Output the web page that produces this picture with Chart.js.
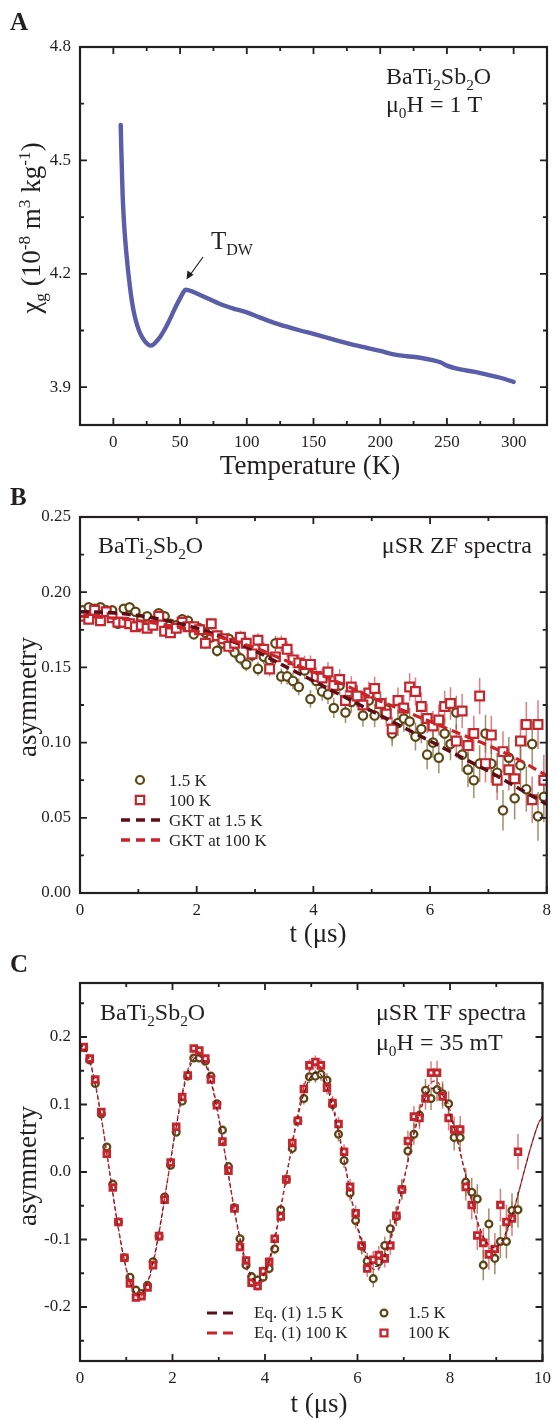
<!DOCTYPE html>
<html>
<head>
<meta charset="utf-8">
<script src="https://cdn.jsdelivr.net/npm/chart.js@4.4.0/dist/chart.umd.min.js"></script>
<style>
  body { margin: 0; background: #fff; }
  canvas { display: block; }
</style>
</head>
<body>
<canvas id="chartA" width="558" height="480"></canvas>
<canvas id="chartB" width="558" height="470"></canvas>
<canvas id="chartC" width="558" height="470"></canvas>
<script>
// ---- Panel A: susceptibility vs temperature ----
const aTemp = [5.5, 6, 6.5, 7, 8, 9, 10, 12, 14, 16, 18, 20, 22, 24, 26, 28, 30, 32, 35, 38, 41, 44, 47, 50, 52, 54, 56,
  60, 65, 70, 80, 90, 100, 110, 120, 130, 140, 150, 160, 170, 180, 190, 200, 210, 220, 230, 240, 245, 250,
  260, 270, 280, 290, 300];
const aChi = [4.594, 4.525, 4.46, 4.405, 4.335, 4.285, 4.245, 4.178, 4.125, 4.088, 4.062, 4.043, 4.030, 4.020, 4.013,
  4.010, 4.013, 4.020, 4.033, 4.050, 4.070, 4.092, 4.115, 4.135, 4.148, 4.158, 4.157,
  4.152, 4.144, 4.136, 4.120, 4.108, 4.098, 4.084, 4.071, 4.060, 4.050, 4.041, 4.031, 4.021, 4.012, 4.004, 3.996,
  3.987, 3.982, 3.978, 3.971, 3.966, 3.957, 3.947, 3.941, 3.933, 3.925, 3.914];
const aXTicks = [0, 50, 100, 150, 200, 250, 300];
const aYTicks = [3.9, 4.2, 4.5, 4.8];

// ---- Panel B: zero field spectra ----
const zfTime = [0.05, 0.15, 0.25, 0.35, 0.45, 0.55, 0.65, 0.75, 0.85, 0.95,
  1.05, 1.15, 1.25, 1.35, 1.45, 1.55, 1.65, 1.75, 1.85, 1.95,
  2.05, 2.15, 2.25, 2.35, 2.45, 2.55, 2.65, 2.75, 2.85, 2.95,
  3.05, 3.15, 3.25, 3.35, 3.45, 3.55, 3.65, 3.75, 3.85, 3.95,
  4.05, 4.15, 4.25, 4.35, 4.45, 4.55, 4.65, 4.75, 4.85, 4.95,
  5.05, 5.15, 5.25, 5.35, 5.45, 5.55, 5.65, 5.75, 5.85, 5.95,
  6.05, 6.15, 6.25, 6.35, 6.45, 6.55, 6.65, 6.75, 6.85, 6.95,
  7.05, 7.15, 7.25, 7.35, 7.45, 7.55, 7.65, 7.75, 7.85, 7.95];
const zf15 = [0.188, 0.190, 0.189, 0.190, 0.188, 0.188, 0.179, 0.189, 0.190, 0.187,
  0.182, 0.184, 0.181, 0.186, 0.184, 0.179, 0.178, 0.182, 0.181, 0.172,
  0.176, 0.173, 0.170, 0.161, 0.166, 0.169, 0.160, 0.156, 0.152, 0.158,
  0.149, 0.157, 0.155, 0.166, 0.144, 0.144, 0.141, 0.137, 0.148, 0.129,
  0.141, 0.134, 0.132, 0.123, 0.138, 0.120, 0.127, 0.131, 0.118, 0.128,
  0.118, 0.126, 0.122, 0.106, 0.113, 0.116, 0.114, 0.104, 0.109, 0.092,
  0.100, 0.090, 0.106, 0.099, 0.120, 0.092, 0.082, 0.075, 0.086, 0.106,
  0.086, 0.080, 0.055, 0.090, 0.063, 0.085, 0.069, 0.099, 0.051, 0.064];
const zf100 = [0.184, 0.182, 0.188, 0.181, 0.187, 0.183, 0.180, 0.180, 0.179, 0.177,
  0.178, 0.176, 0.178, 0.184, 0.174, 0.173, 0.176, 0.180, 0.177, 0.177,
  0.175, 0.166, 0.179, 0.171, 0.169, 0.164, 0.166, 0.170, 0.166, 0.159,
  0.168, 0.162, 0.149, 0.157, 0.166, 0.162, 0.155, 0.153, 0.152, 0.152,
  0.144, 0.143, 0.147, 0.138, 0.142, 0.128, 0.137, 0.131, 0.125, 0.133,
  0.136, 0.126, 0.119, 0.109, 0.128, 0.123, 0.137, 0.134, 0.124, 0.116,
  0.111, 0.115, 0.124, 0.126, 0.101, 0.121, 0.098, 0.106, 0.131, 0.086,
  0.105, 0.075, 0.094, 0.082, 0.076, 0.101, 0.112, 0.062, 0.112, 0.075];
const zfErr = [0.0022, 0.0022, 0.0023, 0.0024, 0.0024, 0.0025, 0.0025, 0.0026, 0.0027, 0.0027,
  0.0028, 0.0029, 0.0030, 0.0031, 0.0031, 0.0032, 0.0033, 0.0034, 0.0035, 0.0036,
  0.0037, 0.0038, 0.0039, 0.0040, 0.0041, 0.0042, 0.0043, 0.0044, 0.0045, 0.0046,
  0.0047, 0.0048, 0.0050, 0.0051, 0.0052, 0.0054, 0.0055, 0.0056, 0.0058, 0.0059,
  0.0061, 0.0062, 0.0064, 0.0066, 0.0067, 0.0069, 0.0071, 0.0072, 0.0074, 0.0076,
  0.0078, 0.0080, 0.0082, 0.0084, 0.0086, 0.0088, 0.0091, 0.0093, 0.0095, 0.0098,
  0.0100, 0.0103, 0.0105, 0.0108, 0.0111, 0.0113, 0.0116, 0.0119, 0.0122, 0.0125,
  0.0128, 0.0131, 0.0135, 0.0138, 0.0141, 0.0145, 0.0150, 0.0155, 0.0162, 0.0170];
const gktTime = [0, 0.5, 1, 1.5, 2, 2.5, 3, 3.5, 4, 4.5, 5, 5.5, 6, 6.5, 7, 7.5, 8];
const gkt15 = [0.187, 0.1865, 0.1845, 0.181, 0.176, 0.169, 0.161, 0.151, 0.141, 0.131, 0.121, 0.111, 0.101, 0.091, 0.081, 0.070, 0.059];
const gkt100 = [0.184, 0.183, 0.181, 0.178, 0.174, 0.169, 0.163, 0.155, 0.147, 0.139, 0.130, 0.122, 0.114, 0.106, 0.098, 0.089, 0.078];
const bXTicks = [0, 2, 4, 6, 8];
const bYTicks = [0, 0.05, 0.10, 0.15, 0.20, 0.25];

// ---- Panel C: transverse field spectra ----
const tfTime = [0.08, 0.21, 0.33, 0.46, 0.58, 0.71, 0.83, 0.96, 1.08, 1.21,
  1.33, 1.46, 1.58, 1.71, 1.83, 1.96, 2.08, 2.21, 2.33, 2.46,
  2.58, 2.71, 2.83, 2.96, 3.08, 3.21, 3.34, 3.46, 3.59, 3.71,
  3.84, 3.96, 4.09, 4.21, 4.34, 4.46, 4.59, 4.71, 4.84, 4.96,
  5.09, 5.21, 5.34, 5.46, 5.59, 5.71, 5.84, 5.96, 6.09, 6.21,
  6.34, 6.46, 6.59, 6.71, 6.84, 6.96, 7.09, 7.22, 7.34, 7.47,
  7.59, 7.72, 7.84, 7.97, 8.09, 8.22, 8.34, 8.47, 8.59, 8.72,
  8.84, 8.97, 9.09, 9.22, 9.34, 9.47];
const tf15 = [0.184, 0.166, 0.131, 0.086, 0.037, -0.018, -0.074, -0.127, -0.156, -0.175,
  -0.180, -0.168, -0.133, -0.095, -0.037, 0.010, 0.059, 0.105, 0.142, 0.169,
  0.169, 0.164, 0.142, 0.101, 0.062, 0.008, -0.053, -0.099, -0.138, -0.155,
  -0.160, -0.156, -0.143, -0.114, -0.056, -0.011, 0.035, 0.076, 0.109, 0.141,
  0.142, 0.145, 0.136, 0.100, 0.056, 0.017, -0.031, -0.072, -0.110, -0.132,
  -0.158, -0.133, -0.109, -0.084, -0.066, -0.026, 0.031, 0.056, 0.084, 0.121,
  0.109, 0.122, 0.116, 0.101, 0.051, 0.051, -0.015, -0.030, -0.040, -0.138,
  -0.077, -0.128, -0.103, -0.103, -0.057, -0.056];
const tf100 = [0.185, 0.168, 0.137, 0.089, 0.027, -0.023, -0.074, -0.127, -0.165, -0.186,
  -0.184, -0.171, -0.138, -0.095, -0.041, 0.014, 0.067, 0.111, 0.143, 0.183,
  0.180, 0.168, 0.137, 0.099, 0.045, 0.002, -0.054, -0.111, -0.131, -0.164,
  -0.169, -0.147, -0.133, -0.099, -0.066, -0.011, 0.043, 0.076, 0.123, 0.158,
  0.163, 0.158, 0.125, 0.102, 0.071, 0.030, -0.022, -0.061, -0.109, -0.143,
  -0.130, -0.123, -0.128, -0.109, -0.065, -0.026, 0.046, 0.082, 0.080, 0.109,
  0.147, 0.147, 0.112, 0.080, 0.063, 0.063, -0.022, -0.049, -0.094, -0.105,
  -0.122, -0.114, -0.049, -0.074, -0.069, 0.030];
const tfErr = [0.0031, 0.0031, 0.0032, 0.0033, 0.0034, 0.0035, 0.0036, 0.0037, 0.0038, 0.0039,
  0.0041, 0.0042, 0.0043, 0.0044, 0.0046, 0.0047, 0.0048, 0.0050, 0.0051, 0.0053,
  0.0054, 0.0056, 0.0057, 0.0059, 0.0061, 0.0062, 0.0064, 0.0066, 0.0068, 0.0070,
  0.0072, 0.0074, 0.0076, 0.0079, 0.0081, 0.0083, 0.0086, 0.0089, 0.0091, 0.0094,
  0.0096, 0.0099, 0.0102, 0.0105, 0.0108, 0.0111, 0.0115, 0.0118, 0.0122, 0.0125,
  0.0129, 0.0133, 0.0136, 0.0140, 0.0145, 0.0149, 0.0153, 0.0158, 0.0162, 0.0167,
  0.0172, 0.0177, 0.0182, 0.0187, 0.0193, 0.0199, 0.0204, 0.0210, 0.0217, 0.0223,
  0.0229, 0.0236, 0.0243, 0.0250, 0.0257, 0.0264];
const fitTime = [0, 0.16, 0.32, 0.48, 0.64, 0.80, 0.96, 1.12, 1.28, 1.44, 1.60, 1.76, 1.92, 2.08, 2.24, 2.40,
  2.56, 2.72, 2.88, 3.04, 3.20, 3.36, 3.52, 3.68, 3.84, 4.00, 4.16, 4.32, 4.48, 4.64, 4.80, 4.96,
  5.12, 5.28, 5.44, 5.60, 5.76, 5.92, 6.08, 6.24, 6.40, 6.56, 6.72, 6.88, 7.04, 7.20, 7.36, 7.52,
  7.68, 7.84, 8.00, 8.16, 8.32, 8.48, 8.64, 8.80, 8.96, 9.12, 9.28, 9.44, 9.60, 9.76, 9.92, 10.0];
const fit15 = [0.190, 0.175, 0.133, 0.072, 0, -0.071, -0.131, -0.170,
  -0.182, -0.167, -0.127, -0.068, 0, 0.067, 0.123, 0.160,
  0.172, 0.158, 0.120, 0.064, 0, -0.064, -0.116, -0.151,
  -0.162, -0.148, -0.112, -0.060, 0, 0.059, 0.107, 0.138,
  0.148, 0.136, 0.103, 0.055, 0, -0.055, -0.100, -0.130,
  -0.140, -0.128, -0.096, -0.051, 0, 0.050, 0.091, 0.117,
  0.125, 0.114, 0.086, 0.046, 0, -0.045, -0.082, -0.105,
  -0.112, -0.102, -0.077, -0.041, 0, 0.040, 0.073, 0.081];
const fit100 = [0.192, 0.177, 0.135, 0.073, 0, -0.072, -0.132, -0.172,
  -0.185, -0.170, -0.130, -0.070, 0, 0.069, 0.127, 0.165,
  0.178, 0.163, 0.124, 0.067, 0, -0.066, -0.121, -0.156,
  -0.168, -0.154, -0.117, -0.063, 0, 0.062, 0.115, 0.149,
  0.160, 0.146, 0.110, 0.059, 0, -0.058, -0.105, -0.136,
  -0.145, -0.133, -0.101, -0.054, 0, 0.053, 0.097, 0.126,
  0.135, 0.122, 0.092, 0.049, 0, -0.047, -0.085, -0.109,
  -0.115, -0.105, -0.079, -0.042, 0, 0.040, 0.073, 0.083];
const cXTicks = [0, 2, 4, 6, 8, 10];
const cYTicks = [-0.2, -0.1, 0, 0.1, 0.2];

// colours
const INK = '#231f20';
const SERIF = '"Liberation Serif", "Times New Roman", serif';
const BLUE = '#5a5da9';
const BROWN = '#5c4816';
const BROWN_ERR = 'rgba(125, 105, 55, 0.75)';
const RED = '#c4262e';
const RED_ERR = 'rgba(210, 70, 75, 0.7)';
const MAROON = '#5d0d16';
const FITRED = '#cc2229';

Chart.defaults.font.family = SERIF;
Chart.defaults.color = INK;

const pts = (xs, ys) => xs.map((x, i) => ({ x: x, y: ys[i] }));

// draw text with sub / superscripts; parts = [[text, 'sub'|'sup'|undefined], ...]
function drawRich(ctx, parts, x, y, size, opts) {
  opts = opts || {};
  const small = size * 0.64;
  const weight = opts.bold ? 'bold ' : '';
  ctx.save();
  ctx.fillStyle = INK;
  ctx.textAlign = 'left';
  ctx.textBaseline = 'alphabetic';
  const widths = parts.map(p => {
    ctx.font = weight + (p[1] ? small : size) + 'px ' + SERIF;
    return ctx.measureText(p[0]).width;
  });
  const total = widths.reduce((a, b) => a + b, 0);
  ctx.translate(x, y);
  if (opts.rotate) ctx.rotate(opts.rotate);
  let cx = opts.align === 'center' ? -total / 2 : (opts.align === 'right' ? -total : 0);
  parts.forEach((p, i) => {
    ctx.font = weight + (p[1] ? small : size) + 'px ' + SERIF;
    const dy = p[1] === 'sub' ? size * 0.24 : (p[1] === 'sup' ? -size * 0.38 : 0);
    ctx.fillText(p[0], cx, dy);
    cx += widths[i];
  });
  ctx.restore();
}

function marker(ctx, kind, x, y, r, color, lw) {
  ctx.save();
  ctx.strokeStyle = color;
  ctx.fillStyle = '#fff';
  ctx.lineWidth = lw;
  ctx.beginPath();
  if (kind === 'circle') ctx.arc(x, y, r, 0, Math.PI * 2);
  else ctx.rect(x - r, y - r, 2 * r, 2 * r);
  ctx.fill();
  ctx.stroke();
  ctx.restore();
}

function dash(ctx, x1, x2, y, color, lw, pattern) {
  ctx.save();
  ctx.strokeStyle = color;
  ctx.lineWidth = lw;
  ctx.setLineDash(pattern);
  ctx.beginPath();
  ctx.moveTo(x1, y);
  ctx.lineTo(x2, y);
  ctx.stroke();
  ctx.restore();
}

// midpoints between majors, plus half steps outside if they stay inside the range
function minorsOf(majors, min, max) {
  const out = [];
  const step = majors[1] - majors[0];
  const all = [majors[0] - step].concat(majors, [majors[majors.length - 1] + step]);
  for (let i = 0; i < all.length - 1; i++) {
    const m = (all[i] + all[i + 1]) / 2;
    if (m > min + 1e-9 && m < max - 1e-9) out.push(m);
  }
  return out;
}

// frame, inward ticks on all sides, error bars, texts
function makeDecor(cfg) {
  return {
    id: 'decor',
    beforeDatasetsDraw(chart) {
      const { ctx, chartArea: a, scales: { x, y } } = chart;
      ctx.save();
      ctx.beginPath();
      ctx.rect(a.left, a.top, a.right - a.left, a.bottom - a.top);
      ctx.clip();
      chart.data.datasets.forEach(ds => {
        if (!ds.errors) return;
        ctx.strokeStyle = ds.errorColor;
        ctx.lineWidth = 1.5;
        ds.data.forEach((p, i) => {
          const px = x.getPixelForValue(p.x);
          ctx.beginPath();
          ctx.moveTo(px, y.getPixelForValue(p.y - ds.errors[i]));
          ctx.lineTo(px, y.getPixelForValue(p.y + ds.errors[i]));
          ctx.stroke();
        });
      });
      ctx.restore();
    },
    afterDraw(chart) {
      const { ctx, chartArea: a, scales: { x, y } } = chart;
      ctx.save();
      ctx.strokeStyle = INK;
      ctx.lineWidth = 1.8;
      const xMin = minorsOf(cfg.xTicks, x.min, x.max);
      const yMin = minorsOf(cfg.yTicks, y.min, y.max);
      const xt = (vals, len) => vals.forEach(v => {
        const px = x.getPixelForValue(v);
        ctx.beginPath();
        ctx.moveTo(px, a.bottom); ctx.lineTo(px, a.bottom - len);
        ctx.moveTo(px, a.top); ctx.lineTo(px, a.top + len);
        ctx.stroke();
      });
      const yt = (vals, len) => vals.forEach(v => {
        const py = y.getPixelForValue(v);
        ctx.beginPath();
        ctx.moveTo(a.left, py); ctx.lineTo(a.left + len, py);
        ctx.moveTo(a.right, py); ctx.lineTo(a.right - len, py);
        ctx.stroke();
      });
      xt(cfg.xTicks, 7); xt(xMin, 4);
      yt(cfg.yTicks, 7); yt(yMin, 4);
      ctx.lineWidth = 2.2;
      ctx.strokeRect(a.left, a.top, a.right - a.left, a.bottom - a.top);
      ctx.restore();
      cfg.draw(ctx, cfg.top);
    }
  };
}

function scaleOpts(min, max, ticks, fmt, isY, size) {
  return {
    type: 'linear',
    min: min,
    max: max,
    grid: { display: false, drawTicks: false },
    border: { display: false },
    afterBuildTicks: s => { s.ticks = ticks.map(v => ({ value: v })); },
    afterFit: s => { if (isY) s.width = 80; else s.height = size; },
    ticks: {
      autoSkip: false,
      maxRotation: 0,
      padding: isY ? 9 : 7,
      color: INK,
      font: { family: SERIF, size: 17 },
      callback: fmt
    }
  };
}

function baseOptions(padTop, xScale, yScale) {
  return {
    responsive: false,
    animation: false,
    events: [],
    layout: { padding: { top: padTop, right: 11, left: 0, bottom: 0 } },
    plugins: { legend: { display: false }, tooltip: { enabled: false } },
    scales: { x: xScale, y: yScale }
  };
}

const ROT = -Math.PI / 2;

// ---------- chart A ----------
new Chart(document.getElementById('chartA'), {
  type: 'scatter',
  data: {
    datasets: [{
      data: pts(aTemp, aChi),
      showLine: true,
      borderColor: BLUE,
      borderWidth: 4.4,
      borderCapStyle: 'round',
      borderJoinStyle: 'round',
      cubicInterpolationMode: 'monotone',
      pointRadius: 0
    }]
  },
  options: baseOptions(47,
    scaleOpts(-25, 325, aXTicks, v => String(v), false, 55),
    scaleOpts(3.8, 4.8, aYTicks, v => v.toFixed(1), true)),
  plugins: [makeDecor({
    top: 0, xTicks: aXTicks, yTicks: aYTicks,
    draw(ctx, o) {
      drawRich(ctx, [['A']], 10, 30 - o, 25, { bold: true });
      drawRich(ctx, [['Temperature (K)']], 310, 474 - o, 27, { align: 'center' });
      drawRich(ctx, [['\u03c7'], ['g', 'sub'], [' (10'], ['-8', 'sup'], [' m'], ['3', 'sup'], [' kg'], ['-1', 'sup'], [')']],
        40, 228 - o, 27, { align: 'center', rotate: ROT });
      drawRich(ctx, [['BaTi'], ['2', 'sub'], ['Sb'], ['2', 'sub'], ['O']], 386, 84 - o, 24);
      drawRich(ctx, [['\u03bc'], ['0', 'sub'], ['H = 1 T']], 386, 112 - o, 24);
      drawRich(ctx, [['T'], ['DW', 'sub']], 211, 249 - o, 25);
      // arrow to the transition
      ctx.save();
      ctx.strokeStyle = INK; ctx.fillStyle = INK; ctx.lineWidth = 1.2;
      ctx.beginPath(); ctx.moveTo(203, 257 - o); ctx.lineTo(190, 275 - o); ctx.stroke();
      ctx.beginPath();
      ctx.moveTo(186.5, 279.5 - o); ctx.lineTo(187.5, 270.5 - o); ctx.lineTo(193.5, 274.8 - o);
      ctx.closePath(); ctx.fill();
      ctx.restore();
    }
  })]
});

// ---------- chart B ----------
new Chart(document.getElementById('chartB'), {
  type: 'scatter',
  data: {
    datasets: [
      { data: pts(gktTime, gkt100), showLine: true, borderColor: FITRED, borderWidth: 3.2,
        borderDash: [9, 5], cubicInterpolationMode: 'monotone', pointRadius: 0, order: 0 },
      { data: pts(gktTime, gkt15), showLine: true, borderColor: MAROON, borderWidth: 3.5,
        borderDash: [9, 5], cubicInterpolationMode: 'monotone', pointRadius: 0, order: 1 },
      { data: pts(zfTime, zf100), pointStyle: 'rect', pointRadius: 6.2, pointBorderWidth: 2.2,
        pointBorderColor: RED, pointBackgroundColor: '#fff', errors: zfErr, errorColor: RED_ERR, order: 2 },
      { data: pts(zfTime, zf15), pointStyle: 'circle', pointRadius: 4.2, pointBorderWidth: 2.2,
        pointBorderColor: BROWN, pointBackgroundColor: '#fff', errors: zfErr, errorColor: BROWN_ERR, order: 3 }
    ]
  },
  options: baseOptions(37,
    scaleOpts(0, 8, bXTicks, v => String(v), false, 57),
    scaleOpts(0, 0.25, bYTicks, v => v.toFixed(2), true)),
  plugins: [makeDecor({
    top: 480, xTicks: bXTicks, yTicks: bYTicks,
    draw(ctx, o) {
      drawRich(ctx, [['B']], 10, 505 - o, 25, { bold: true });
      drawRich(ctx, [['t (\u03bcs)']], 318, 942 - o, 27, { align: 'center' });
      drawRich(ctx, [['asymmetry']], 36, 697 - o, 27, { align: 'center', rotate: ROT });
      drawRich(ctx, [['BaTi'], ['2', 'sub'], ['Sb'], ['2', 'sub'], ['O']], 98, 553 - o, 24);
      drawRich(ctx, [['\u03bcSR ZF spectra']], 532, 553 - o, 24, { align: 'right' });
      marker(ctx, 'circle', 140, 780 - o, 4, BROWN, 2.2);
      marker(ctx, 'rect', 140, 800 - o, 4.2, RED, 2.2);
      dash(ctx, 121, 160, 820 - o, MAROON, 3.5, [9, 6]);
      dash(ctx, 121, 160, 840 - o, FITRED, 3.5, [9, 6]);
      drawRich(ctx, [['1.5 K']], 169, 786 - o, 17);
      drawRich(ctx, [['100 K']], 169, 806 - o, 17);
      drawRich(ctx, [['GKT at 1.5 K']], 169, 826 - o, 17);
      drawRich(ctx, [['GKT at 100 K']], 169, 846 - o, 17);
    }
  })]
});

// ---------- chart C ----------
new Chart(document.getElementById('chartC'), {
  type: 'scatter',
  data: {
    datasets: [
      { data: pts(fitTime, fit100), showLine: true, borderColor: FITRED, borderWidth: 1.2,
        borderDash: [4, 3], cubicInterpolationMode: 'monotone', pointRadius: 0, order: 0 },
      { data: pts(fitTime, fit15), showLine: true, borderColor: MAROON, borderWidth: 1.2,
        borderDash: [4, 3], cubicInterpolationMode: 'monotone', pointRadius: 0, order: 1 },
      { data: pts(tfTime, tf100), pointStyle: 'rect', pointRadius: 4.0, pointBorderWidth: 2.9,
        pointBorderColor: RED, pointBackgroundColor: '#fff', errors: tfErr, errorColor: RED_ERR, order: 2 },
      { data: pts(tfTime, tf15), pointStyle: 'circle', pointRadius: 3.4, pointBorderWidth: 2.3,
        pointBorderColor: BROWN, pointBackgroundColor: '#fff', errors: tfErr, errorColor: BROWN_ERR, order: 3 }
    ]
  },
  options: baseOptions(33,
    scaleOpts(0, 10, cXTicks, v => String(v), false, 59),
    scaleOpts(-0.28, 0.28, cYTicks, v => v.toFixed(1), true)),
  plugins: [makeDecor({
    top: 950, xTicks: cXTicks, yTicks: cYTicks,
    draw(ctx, o) {
      drawRich(ctx, [['C']], 10, 972 - o, 25, { bold: true });
      drawRich(ctx, [['t (\u03bcs)']], 319, 1412 - o, 27, { align: 'center' });
      drawRich(ctx, [['asymmetry']], 36, 1166 - o, 27, { align: 'center', rotate: ROT });
      drawRich(ctx, [['BaTi'], ['2', 'sub'], ['Sb'], ['2', 'sub'], ['O']], 100, 1020 - o, 24);
      drawRich(ctx, [['\u03bcSR TF spectra']], 376, 1020 - o, 24);
      drawRich(ctx, [['\u03bc'], ['0', 'sub'], ['H = 35 mT']], 376, 1050 - o, 24);
      dash(ctx, 207, 234, 1313 - o, MAROON, 3, [10, 6]);
      dash(ctx, 207, 234, 1333 - o, FITRED, 3, [10, 6]);
      drawRich(ctx, [['Eq. (1) 1.5 K']], 254, 1318 - o, 17);
      drawRich(ctx, [['Eq. (1) 100 K']], 254, 1338 - o, 17);
      marker(ctx, 'circle', 384, 1313 - o, 3.4, BROWN, 2.2);
      marker(ctx, 'rect', 384, 1333 - o, 3.4, RED, 2.4);
      drawRich(ctx, [['1.5 K']], 408, 1318 - o, 17);
      drawRich(ctx, [['100 K']], 408, 1338 - o, 17);
    }
  })]
});
</script>
</body>
</html>
